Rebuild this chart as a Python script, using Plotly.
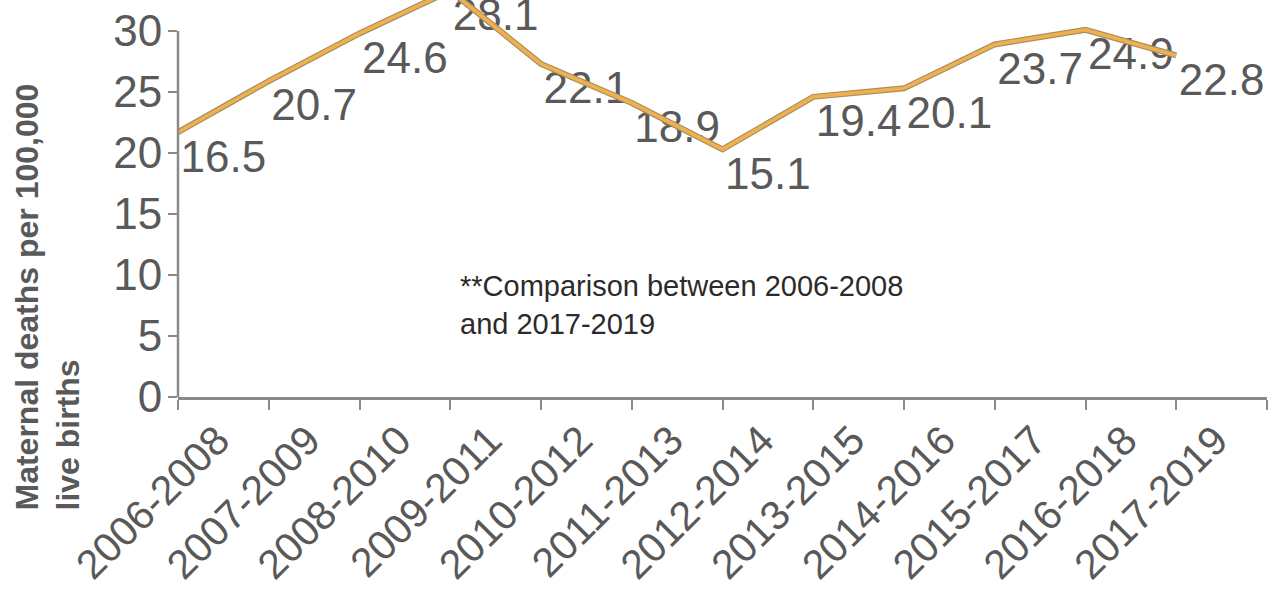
import plotly.graph_objects as go

# Three-year rolling periods and maternal mortality rate per 100,000 live births
periods = ["2006-2008", "2007-2009", "2008-2010", "2009-2011", "2010-2012", "2011-2013",
           "2012-2014", "2013-2015", "2014-2016", "2015-2017", "2016-2018", "2017-2019"]
rates = [16.5, 20.7, 24.6, 28.1, 22.1, 18.9, 15.1, 19.4, 20.1, 23.7, 24.9, 22.8]
y_tick_values = [0, 5, 10, 15, 20, 25, 30]

y_title = "<b>Maternal deaths per 100,000<br>live births</b>"
note = "**Comparison between 2006-2008<br>and 2017-2019"

FONT = "Liberation Sans, Arial, sans-serif"
LABEL_GREY = "#595959"
AXIS_GREY = "#8a8a8a"

# Canvas and plot-area geometry (pixels)
W, H = 1270, 594
M_L, M_R, M_T, M_B = 178, 3, 0, 197
PLOT_H = H - M_T - M_B
PX_PER_UNIT = 12.2
Y_TOP = PLOT_H / PX_PER_UNIT

# The series line sits on its own overlay scale, raised above the tick scale;
# the value labels sit on a third overlay scale just beneath the line.
LINE_OFFSET = 5.2
LABEL_OFFSET = 2.33

fig = go.Figure()

# Line: darker edge underneath, gold core on top
fig.add_trace(go.Scatter(
    x=periods, y=rates, xaxis="x2", yaxis="y2", mode="lines",
    line=dict(color="#a98d66", width=6), hoverinfo="skip", showlegend=False,
))
fig.add_trace(go.Scatter(
    x=periods, y=rates, xaxis="x2", yaxis="y2", mode="lines",
    line=dict(color="#efb14c", width=3.6), hoverinfo="skip", showlegend=False,
))

# Value labels
fig.add_trace(go.Scatter(
    x=periods, y=rates, xaxis="x", yaxis="y3", mode="text",
    text=[f"{v:.1f}" for v in rates], textposition="middle center",
    textfont=dict(family=FONT, size=44, color=LABEL_GREY),
    cliponaxis=False, hoverinfo="skip", showlegend=False,
))

n = len(periods)

fig.update_layout(
    width=W, height=H,
    margin=dict(l=M_L, r=M_R, t=M_T, b=M_B, autoexpand=False),
    paper_bgcolor="white", plot_bgcolor="white",
    font=dict(family=FONT, color=LABEL_GREY),
    showlegend=False,
    xaxis=dict(
        type="category", categoryorder="array", categoryarray=periods,
        range=[-0.5, n - 0.5], tickson="boundaries",
        showline=True, linecolor=AXIS_GREY, linewidth=2.5,
        ticks="outside", ticklen=10, tickwidth=2, tickcolor=AXIS_GREY,
        tickangle=-45, ticklabelshift=-6,
        tickfont=dict(family=FONT, size=41, color=LABEL_GREY),
        showgrid=False, zeroline=False, automargin=False, fixedrange=True,
    ),
    xaxis2=dict(
        type="category", categoryorder="array", categoryarray=periods,
        range=[0, n], overlaying="x", anchor="y", visible=False,
        showgrid=False, zeroline=False, fixedrange=True,
    ),
    yaxis=dict(
        range=[0, Y_TOP], tickmode="array", tickvals=y_tick_values,
        ticktext=[str(v) for v in y_tick_values],
        showline=False, ticks="outside", ticklen=9, tickwidth=2, tickcolor=AXIS_GREY,
        ticklabelstandoff=-3,
        tickfont=dict(family=FONT, size=44, color=LABEL_GREY),
        showgrid=False, zeroline=False, automargin=False, fixedrange=True,
    ),
    yaxis2=dict(
        range=[-LINE_OFFSET, Y_TOP - LINE_OFFSET], overlaying="y", anchor="x",
        visible=False, showgrid=False, zeroline=False, fixedrange=True,
    ),
    yaxis3=dict(
        range=[-LINE_OFFSET + LABEL_OFFSET, Y_TOP - LINE_OFFSET + LABEL_OFFSET],
        overlaying="y", anchor="x", visible=False,
        showgrid=False, zeroline=False, fixedrange=True,
    ),
)

# Vertical axis line running from 0 up to the top tick
fig.add_shape(
    type="line", xref="paper", x0=0, x1=0, yref="y",
    y0=y_tick_values[0], y1=y_tick_values[-1],
    line=dict(color=AXIS_GREY, width=2.5), layer="above",
)

# Axis title, left-aligned across its two lines
fig.add_annotation(
    text=y_title, textangle=-90, align="left",
    xref="paper", yref="paper", x=0, y=0,
    xanchor="center", yanchor="bottom", xshift=-131, yshift=-116,
    showarrow=False, font=dict(family=FONT, size=32, color=LABEL_GREY),
)

# Footnote inside the plot
fig.add_annotation(
    text=note, align="left",
    xref="paper", yref="paper", x=(458 - M_L) / (W - M_L - M_R), y=(PLOT_H - 268) / PLOT_H,
    xanchor="left", yanchor="top",
    showarrow=False, font=dict(family=FONT, size=29, color="#2b2b2b"),
)

fig.write_html("out.html", config={"displayModeBar": False})
